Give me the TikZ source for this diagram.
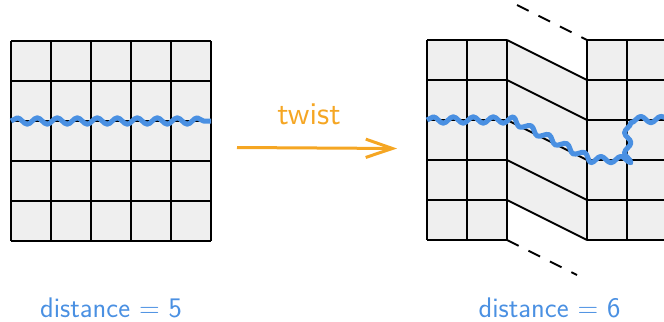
\documentclass[tikz,border=0pt]{standalone}
\usepackage{graphicx}
\usetikzlibrary{decorations.pathmorphing,arrows.meta}
\definecolor{cellgray}{HTML}{EFEFEF}
\definecolor{wireblue}{HTML}{4A90E2}
\definecolor{twistorange}{HTML}{F5A623}
\begin{document}
\begin{tikzpicture}[x=0.6pt,y=-0.6pt,
  gridline/.style={line width=1.2pt,black},
  cellfill/.style={fill=cellgray},
  wave/.style={wireblue,line width=3pt,line join=round,decorate,
    decoration={snake,segment length=12pt,amplitude=1.9pt}},
  edgedash/.style={line width=1.2pt,black,dash pattern=on 7.8pt off 6.6pt},
  twistarrow/.style={twistorange,line width=1.8pt,
    -{Straight Barb[length=16pt,width=11pt,line width=1.8pt]}},
  distlabel/.style={wireblue,font=\sffamily\fontsize{17}{20}\selectfont,anchor=base},
  twistlabel/.style={twistorange,font=\sffamily\fontsize{10}{12}\selectfont,anchor=base,inner sep=0pt}]
\useasboundingbox (0,0) rectangle (664,322);
\clip (0,0) rectangle (664,322);

% cell fills
\fill[cellfill] (11,41) rectangle (211,241);
\fill[cellfill] (427,40) rectangle (507,240);
\fill[cellfill] (507,40) -- (587,80) -- (587,240) -- (507,200) -- cycle;
\fill[cellfill] (587,40) rectangle (667,240);

% untwisted 5x5 patch
\foreach \i in {0,...,5} {
  \draw[gridline] (11+40*\i,41) -- (11+40*\i,241);
  \draw[gridline] (11,41+40*\i) -- (211,41+40*\i);
}

% twisted patch: left block
\foreach \i in {0,1,2} \draw[gridline] (427+40*\i,40) -- (427+40*\i,240);
\foreach \i in {0,...,5} \draw[gridline] (427,40+40*\i) -- (507,40+40*\i);

% sheared strip
\foreach \i in {0,...,4} \draw[gridline] (507,40+40*\i) -- (587,80+40*\i);

% right block
\foreach \i in {0,1,2} \draw[gridline] (587+40*\i,40) -- (587+40*\i,240);
\foreach \i in {0,...,5} \draw[gridline] (587,40+40*\i) -- (667,40+40*\i);

% continuation of the shear
\draw[edgedash] (517,5) -- (587,40);
\draw[edgedash] (507,240) -- (577,275);

% logical operator paths
\draw[wave] (11,121) -- (211,121);
\draw[wave] (427,120) -- (507,120) -- (587,160) -- (627,160) -- (627,120) -- (672,120);

% twist arrow
\coordinate (twistfrom) at (237,147.5);
\coordinate (twistto) at (397,148.5);
\draw[twistarrow] (twistfrom) -- (twistto);
\node[twistlabel] (twistname) at (309,124.5) {\scalebox{1.9}{twist}};

% distance labels
\node[distlabel] (leftdist) at (111,317.3) {distance = 5};
\node[distlabel] (rightdist) at (549.5,317.3) {distance = 6};
\end{tikzpicture}
\end{document}
